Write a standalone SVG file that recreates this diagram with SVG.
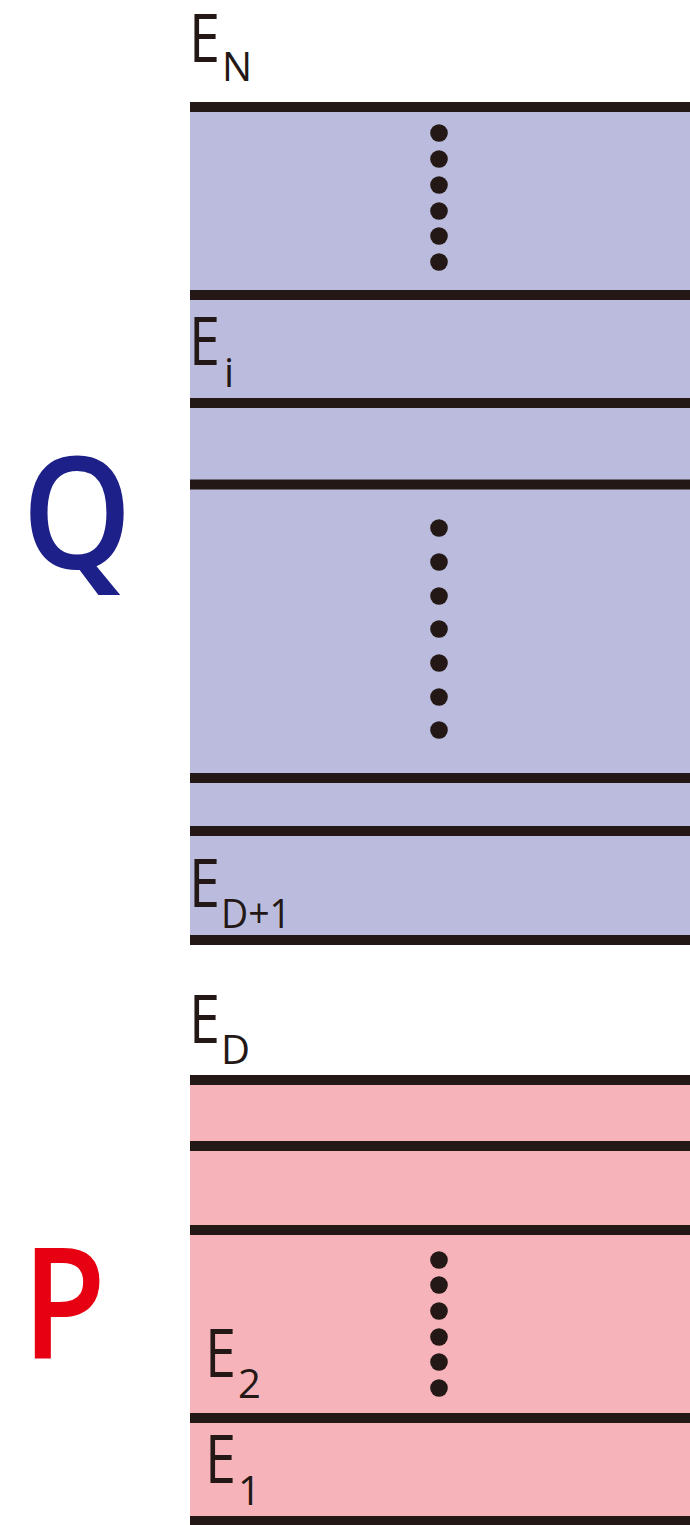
<svg xmlns="http://www.w3.org/2000/svg" width="690" height="1525" viewBox="0 0 690 1525">
<style>
.ln{stroke:#231815;stroke-width:10;}
.dot{fill:#231815;}
.lab{font-family:"Open Sans","Noto Sans",sans-serif;fill:#231815;}
.big{font-size:68px;}
.sub{font-size:40px;}
</style>
<rect width="690" height="1525" fill="#ffffff"/>
<g id="band-Q">
<rect x="190" y="107" width="500" height="833" fill="#bbbcdd"/>
</g>
<g id="band-P">
<rect x="190" y="1080" width="500" height="441" fill="#f6b3b9"/>
</g>
<g id="levels">
<line class="ln" x1="190" y1="107" x2="690" y2="107"/>
<line class="ln" x1="190" y1="295" x2="690" y2="295"/>
<line class="ln" x1="190" y1="403" x2="690" y2="403"/>
<line class="ln" x1="190" y1="484.5" x2="690" y2="484.5"/>
<line class="ln" x1="190" y1="778" x2="690" y2="778"/>
<line class="ln" x1="190" y1="831" x2="690" y2="831"/>
<line class="ln" x1="190" y1="940" x2="690" y2="940"/>
<line class="ln" x1="190" y1="1080" x2="690" y2="1080"/>
<line class="ln" x1="190" y1="1146" x2="690" y2="1146"/>
<line class="ln" x1="190" y1="1230" x2="690" y2="1230"/>
<line class="ln" x1="190" y1="1418" x2="690" y2="1418"/>
<line class="ln" x1="190" y1="1521" x2="690" y2="1521"/>
</g>
<g id="dots-top">
<circle class="dot" cx="439" cy="133" r="8.8"/>
<circle class="dot" cx="439" cy="159" r="8.8"/>
<circle class="dot" cx="439" cy="185" r="8.8"/>
<circle class="dot" cx="439" cy="211" r="8.8"/>
<circle class="dot" cx="439" cy="236" r="8.8"/>
<circle class="dot" cx="439" cy="262" r="8.8"/>
</g>
<g id="dots-mid">
<circle class="dot" cx="439" cy="528" r="8.8"/>
<circle class="dot" cx="439" cy="562" r="8.8"/>
<circle class="dot" cx="439" cy="596" r="8.8"/>
<circle class="dot" cx="439" cy="629" r="8.8"/>
<circle class="dot" cx="439" cy="663" r="8.8"/>
<circle class="dot" cx="439" cy="697" r="8.8"/>
<circle class="dot" cx="439" cy="730" r="8.8"/>
</g>
<g id="dots-bot">
<circle class="dot" cx="439" cy="1260" r="8.8"/>
<circle class="dot" cx="439" cy="1285" r="8.8"/>
<circle class="dot" cx="439" cy="1311" r="8.8"/>
<circle class="dot" cx="439" cy="1337" r="8.8"/>
<circle class="dot" cx="439" cy="1362" r="8.8"/>
<circle class="dot" cx="439" cy="1388" r="8.8"/>
</g>
<g id="label-EN">
<text class="lab big" x="189" y="62" textLength="31" lengthAdjust="spacingAndGlyphs">E</text>
<text class="lab sub" x="222" y="81">N</text>
</g>
<g id="label-Ei">
<text class="lab big" x="189" y="365" textLength="31" lengthAdjust="spacingAndGlyphs">E</text>
<text class="lab sub" x="224" y="387">i</text>
</g>
<g id="label-ED1">
<text class="lab big" x="189" y="907" textLength="31" lengthAdjust="spacingAndGlyphs">E</text>
<text class="lab sub" x="221" y="928" textLength="70" lengthAdjust="spacingAndGlyphs">D+1</text>
</g>
<g id="label-ED">
<text class="lab big" x="189" y="1043" textLength="31" lengthAdjust="spacingAndGlyphs">E</text>
<text class="lab sub" x="221" y="1064">D</text>
</g>
<g id="label-E2">
<text class="lab big" x="205" y="1377" textLength="31" lengthAdjust="spacingAndGlyphs">E</text>
<text class="lab sub" x="238" y="1398">2</text>
</g>
<g id="label-E1">
<text class="lab big" x="205" y="1483" textLength="31" lengthAdjust="spacingAndGlyphs">E</text>
<text class="lab sub" x="238" y="1505">1</text>
</g>
<g id="label-Q">
<text x="22" y="568" font-family="Open Sans, Noto Sans, sans-serif" font-size="156" font-weight="600" fill="#1d2088" textLength="110" lengthAdjust="spacingAndGlyphs">Q</text>
</g>
<g id="label-P">
<text x="22" y="1358" font-family="Open Sans, Noto Sans, sans-serif" font-size="154" font-weight="600" fill="#e60012" textLength="84" lengthAdjust="spacingAndGlyphs">P</text>
</g>
</svg>
